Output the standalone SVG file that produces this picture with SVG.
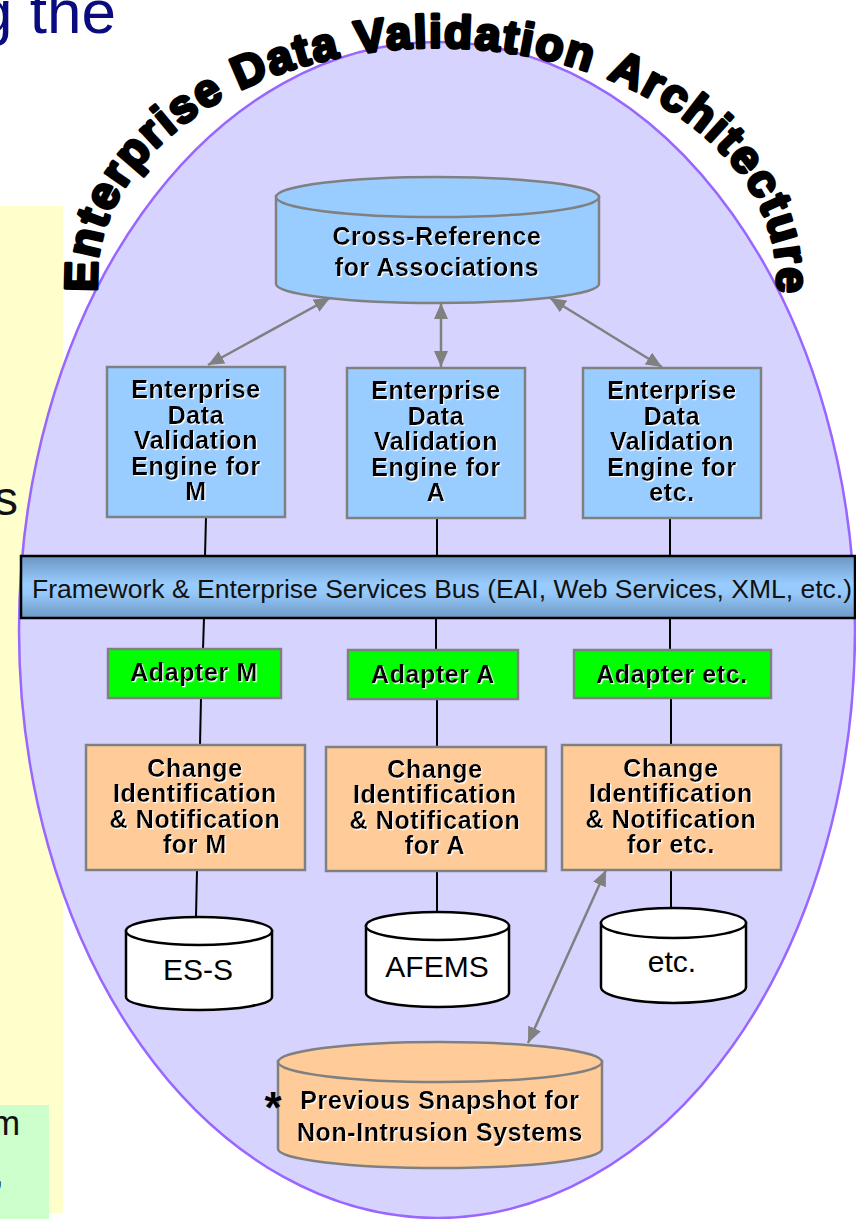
<svg xmlns="http://www.w3.org/2000/svg" width="856" height="1219" viewBox="0 0 856 1219">
  <defs>
    <style>
      .lbl { font-family: "Liberation Sans", Arial, sans-serif; font-weight: bold; font-size: 25px; letter-spacing: 0.6px; text-anchor: middle; fill: #000; filter: url(#wsh); }
      .db { font-family: "Liberation Sans", Arial, sans-serif; font-size: 30px; text-anchor: middle; fill: #000; }
      .ttl { font-family: "Liberation Sans", Arial, sans-serif; font-weight: 900; font-size: 46px; fill: #000; stroke: #000; stroke-width: 3.2; stroke-linejoin: round; letter-spacing: 2px; }
      .box { stroke: #808080; stroke-width: 2.5; }
      .blue { fill: #99ccff; }
      .peach { fill: #ffcc99; }
      .green { fill: #00ff00; }
      .link { stroke: #000; stroke-width: 2; fill: none; }
      .dbl { stroke: #808080; stroke-width: 2.5; fill: none; marker-start: url(#ah); marker-end: url(#ah); }
      .cyl-w { fill: #fff; stroke: #000; stroke-width: 2.5; }
      .side { font-family: "Liberation Sans", Arial, sans-serif; fill: #111; }
    </style>
    <filter id="wsh" x="-10%" y="-20%" width="120%" height="140%">
      <feDropShadow dx="1.2" dy="1.2" stdDeviation="0" flood-color="#ffffff" flood-opacity="1"/>
    </filter>
    <linearGradient id="busGrad" x1="0" y1="0" x2="0" y2="1">
      <stop offset="0" stop-color="#6a96c2"/>
      <stop offset="0.45" stop-color="#99ccff"/>
      <stop offset="0.6" stop-color="#96c8fa"/>
      <stop offset="1" stop-color="#6d99c4"/>
    </linearGradient>
    <marker id="ah" viewBox="0 0 16 14" refX="16" refY="7" markerWidth="16" markerHeight="14" markerUnits="userSpaceOnUse" orient="auto-start-reverse">
      <path d="M0,0 L16,7 L0,14 z" fill="#808080"/>
    </marker>
    <path id="titleArc" d="M97.5,292 A340,232 0 1 1 776.5,292"/>
  </defs>

  <rect width="856" height="1219" fill="#ffffff"/>

  <!-- slide fragments around the figure -->
  <g id="slide-bits">
    <text class="side" x="-22" y="33" font-size="62" style="fill:#0b0b80">g the</text>
    <rect x="0" y="206" width="63" height="1007" fill="#ffffcc"/>
    <text class="side" x="-6" y="515" font-size="48">s</text>
    <rect x="0" y="1105" width="49" height="114" fill="#ccffcc"/>
    <text class="side" x="-9" y="1135" font-size="35">m</text>
    <text class="side" x="-6" y="1185" font-size="35">,</text>
  </g>

  <!-- enclosing architecture ellipse -->
  <g id="boundary">
    <ellipse cx="437" cy="630" rx="418" ry="588" fill="#d6d4ff" stroke="#9966ff" stroke-width="2.5"/>
  </g>

  <!-- arched heading, one word per text run -->
  <g id="title">
    <text class="ttl"><textPath href="#titleArc" startOffset="0">Enterprise</textPath></text>
    <text class="ttl"><textPath href="#titleArc" startOffset="262">Data</textPath></text>
    <text class="ttl"><textPath href="#titleArc" startOffset="385">Validation</textPath></text>
    <text class="ttl"><textPath href="#titleArc" startOffset="639">Architecture</textPath></text>
  </g>

  <!-- connectors -->
  <g id="connectors">
    <line class="dbl" x1="208" y1="365" x2="330" y2="298"/>
    <line class="dbl" x1="441" y1="367" x2="441" y2="303"/>
    <line class="dbl" x1="662" y1="367" x2="550" y2="298"/>
    <line class="dbl" x1="606" y1="870" x2="528" y2="1043"/>

    <line class="link" x1="206" y1="517" x2="205" y2="556"/>
    <line class="link" x1="437" y1="518" x2="437" y2="556"/>
    <line class="link" x1="670" y1="518" x2="670" y2="556"/>
    <line class="link" x1="204" y1="618" x2="203" y2="649"/>
    <line class="link" x1="436" y1="618" x2="436" y2="650"/>
    <line class="link" x1="670" y1="618" x2="670" y2="650"/>
    <line class="link" x1="201" y1="698" x2="200" y2="745"/>
    <line class="link" x1="437" y1="699" x2="437" y2="747"/>
    <line class="link" x1="671" y1="698" x2="671" y2="745"/>
    <line class="link" x1="197" y1="870" x2="196" y2="917"/>
    <line class="link" x1="437" y1="871" x2="437" y2="912"/>
    <line class="link" x1="671" y1="870" x2="671" y2="908"/>
  </g>

  <g id="xref">
    <path class="box blue" d="M276,197 V284 A161.5,19 0 0 0 599,284 V197 Z"/>
    <ellipse class="box blue" cx="437.5" cy="197" rx="161.5" ry="20"/>
    <text class="lbl" x="437" y="245">Cross-Reference</text>
    <text class="lbl" x="437" y="276">for Associations</text>
  </g>

  <g id="engine-m">
    <rect class="box blue" x="107" y="367" width="178" height="150"/>
    <text class="lbl" x="196" y="398">Enterprise</text>
    <text class="lbl" x="196" y="423.5">Data</text>
    <text class="lbl" x="196" y="449">Validation</text>
    <text class="lbl" x="196" y="474.5">Engine for</text>
    <text class="lbl" x="196" y="500">M</text>
  </g>
  <g id="engine-a">
    <rect class="box blue" x="347" y="368" width="178" height="150"/>
    <text class="lbl" x="436" y="399">Enterprise</text>
    <text class="lbl" x="436" y="424.5">Data</text>
    <text class="lbl" x="436" y="450">Validation</text>
    <text class="lbl" x="436" y="475.5">Engine for</text>
    <text class="lbl" x="436" y="501">A</text>
  </g>
  <g id="engine-etc">
    <rect class="box blue" x="583" y="368" width="178" height="150"/>
    <text class="lbl" x="672" y="399">Enterprise</text>
    <text class="lbl" x="672" y="424.5">Data</text>
    <text class="lbl" x="672" y="450">Validation</text>
    <text class="lbl" x="672" y="475.5">Engine for</text>
    <text class="lbl" x="672" y="501">etc.</text>
  </g>

  <g id="bus">
    <rect x="21" y="556" width="834" height="62" fill="url(#busGrad)" stroke="#000" stroke-width="2.5"/>
    <text x="32" y="598" font-family="Liberation Sans, Arial, sans-serif" font-size="26" fill="#111" textLength="820" lengthAdjust="spacingAndGlyphs">Framework &amp; Enterprise Services Bus (EAI, Web Services, XML, etc.)</text>
  </g>

  <g id="adapter-m">
    <rect class="box green" x="108" y="649" width="173" height="49"/>
    <text class="lbl" x="194" y="681">Adapter M</text>
  </g>
  <g id="adapter-a">
    <rect class="box green" x="348" y="650" width="170" height="49"/>
    <text class="lbl" x="433" y="683">Adapter A</text>
  </g>
  <g id="adapter-etc">
    <rect class="box green" x="574" y="650" width="197" height="48"/>
    <text class="lbl" x="672" y="683">Adapter etc.</text>
  </g>

  <g id="change-m">
    <rect class="box peach" x="86" y="745" width="219" height="125"/>
    <text class="lbl" x="195" y="776.5">Change</text>
    <text class="lbl" x="195" y="802">Identification</text>
    <text class="lbl" x="195" y="827.5">&amp; Notification</text>
    <text class="lbl" x="195" y="853">for M</text>
  </g>
  <g id="change-a">
    <rect class="box peach" x="326" y="747" width="220" height="124"/>
    <text class="lbl" x="435" y="777.5">Change</text>
    <text class="lbl" x="435" y="803">Identification</text>
    <text class="lbl" x="435" y="828.5">&amp; Notification</text>
    <text class="lbl" x="435" y="854">for A</text>
  </g>
  <g id="change-etc">
    <rect class="box peach" x="562" y="745" width="219" height="125"/>
    <text class="lbl" x="671" y="776.5">Change</text>
    <text class="lbl" x="671" y="802">Identification</text>
    <text class="lbl" x="671" y="827.5">&amp; Notification</text>
    <text class="lbl" x="671" y="853">for etc.</text>
  </g>

  <g id="db-ess">
    <path class="cyl-w" d="M126,931 V997 A73,13 0 0 0 272,997 V931 Z"/>
    <ellipse class="cyl-w" cx="199" cy="931" rx="73" ry="14"/>
    <text class="db" x="198" y="980">ES-S</text>
  </g>
  <g id="db-afems">
    <path class="cyl-w" d="M366,926 V993 A71.5,14 0 0 0 509,993 V926 Z"/>
    <ellipse class="cyl-w" cx="437.5" cy="926" rx="71.5" ry="14"/>
    <text class="db" x="437" y="977">AFEMS</text>
  </g>
  <g id="db-etc">
    <path class="cyl-w" d="M601,923 V987 A72.5,16 0 0 0 746,987 V923 Z"/>
    <ellipse class="cyl-w" cx="673.5" cy="923" rx="72.5" ry="15"/>
    <text class="db" x="672" y="972">etc.</text>
  </g>

  <g id="snapshot">
    <path class="box peach" d="M278,1062 V1149 A162,19 0 0 0 602,1149 V1062 Z"/>
    <ellipse class="box peach" cx="440" cy="1062" rx="162" ry="20"/>
    <text x="273" y="1123" font-family="Liberation Sans, Arial, sans-serif" font-weight="bold" font-size="44" text-anchor="middle" fill="#000">*</text>
    <text class="lbl" x="440" y="1109">Previous Snapshot for</text>
    <text class="lbl" x="440" y="1141">Non-Intrusion Systems</text>
  </g>
</svg>
